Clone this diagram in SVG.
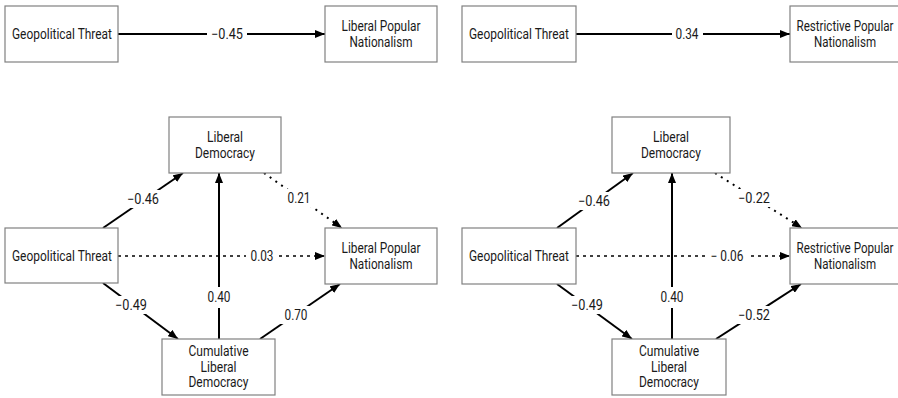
<svg xmlns="http://www.w3.org/2000/svg" width="898" height="398" viewBox="0 0 898 398">
<defs>
<marker id="ah" markerUnits="userSpaceOnUse" markerWidth="10" markerHeight="8" refX="10" refY="4" orient="auto">
<path d="M0,0 L10,4 L0,8 z" fill="#000"/>
</marker>
<style>
.box{fill:#fff;stroke:#808080;stroke-width:1.2}
.t{font-family:Roboto,"Liberation Sans",sans-serif;font-size:14px;fill:#1a1a1a;text-anchor:middle}
.e{fill:none;stroke:#000;stroke-width:2;marker-end:url(#ah)}
.d{fill:none;stroke:#000;stroke-width:1.6;stroke-dasharray:3 4;marker-end:url(#ah)}
.dd{fill:none;stroke:#000;stroke-width:2;stroke-dasharray:2 5;marker-end:url(#ah)}
.bg{fill:#fff}
</style>
</defs>
<rect width="898" height="398" fill="#fff"/>

<g id="connectors">
<line class="e" x1="118" y1="34" x2="325" y2="34"/>
<rect class="bg" x="207" y="27" width="40" height="14"/>
<text class="t" x="227" y="39" textLength="32" lengthAdjust="spacingAndGlyphs">−0.45</text>
<line class="e" x1="576" y1="34" x2="790" y2="34"/>
<rect class="bg" x="672" y="27" width="31" height="14"/>
<text class="t" x="687" y="39" textLength="23" lengthAdjust="spacingAndGlyphs">0.34</text>

<line class="d" x1="118" y1="256" x2="325" y2="256"/>
<rect class="bg" x="246" y="249" width="32" height="14"/>
<text class="t" x="262" y="261" textLength="23" lengthAdjust="spacingAndGlyphs">0.03</text>
<line class="e" x1="219" y1="339" x2="219" y2="173"/>
<rect class="bg" x="205" y="287" width="28" height="21"/>
<text class="t" x="219" y="302" textLength="23" lengthAdjust="spacingAndGlyphs">0.40</text>
<line class="e" x1="103" y1="228" x2="183" y2="173"/>
<rect class="bg" x="124" y="190" width="38" height="18"/>
<text class="t" x="143" y="204" textLength="32" lengthAdjust="spacingAndGlyphs">−0.46</text>
<line class="dd" x1="264" y1="173" x2="342" y2="228"/>
<rect class="bg" x="284" y="189" width="31" height="18"/>
<text class="t" x="299" y="203" textLength="23" lengthAdjust="spacingAndGlyphs">0.21</text>
<line class="e" x1="103" y1="283" x2="178" y2="339"/>
<rect class="bg" x="112" y="296" width="38" height="18"/>
<text class="t" x="131" y="310" textLength="32" lengthAdjust="spacingAndGlyphs">−0.49</text>
<line class="e" x1="260" y1="339" x2="340" y2="284"/>
<rect class="bg" x="280" y="306" width="31" height="18"/>
<text class="t" x="296" y="320" textLength="23" lengthAdjust="spacingAndGlyphs">0.70</text>

<line class="d" x1="576" y1="256" x2="790" y2="256"/>
<rect class="bg" x="708" y="249" width="42" height="14"/>
<text class="t" x="727" y="261" textLength="33" lengthAdjust="spacingAndGlyphs">− 0.06</text>
<line class="e" x1="672" y1="339" x2="672" y2="173"/>
<rect class="bg" x="658" y="287" width="28" height="21"/>
<text class="t" x="672" y="302" textLength="23" lengthAdjust="spacingAndGlyphs">0.40</text>
<line class="e" x1="557" y1="228" x2="633" y2="173"/>
<rect class="bg" x="575" y="192" width="38" height="18"/>
<text class="t" x="594" y="206" textLength="32" lengthAdjust="spacingAndGlyphs">−0.46</text>
<line class="dd" x1="715" y1="173" x2="802" y2="228"/>
<rect class="bg" x="735" y="189" width="38" height="18"/>
<text class="t" x="754" y="203" textLength="32" lengthAdjust="spacingAndGlyphs">−0.22</text>
<line class="e" x1="557" y1="284" x2="632" y2="339"/>
<rect class="bg" x="568" y="296" width="38" height="18"/>
<text class="t" x="587" y="310" textLength="32" lengthAdjust="spacingAndGlyphs">−0.49</text>
<line class="e" x1="716" y1="339" x2="801" y2="284"/>
<rect class="bg" x="735" y="306" width="38" height="18"/>
<text class="t" x="754" y="320" textLength="32" lengthAdjust="spacingAndGlyphs">−0.52</text>
</g>

<g id="gt-top-left">
<rect class="box" x="5" y="6" width="113" height="56"/>
<text class="t" x="62" y="39" textLength="100" lengthAdjust="spacingAndGlyphs">Geopolitical Threat</text>
</g>
<g id="lpn-top">
<rect class="box" x="325" y="6" width="112" height="56"/>
<text class="t" x="381" y="31" textLength="79" lengthAdjust="spacingAndGlyphs">Liberal Popular</text>
<text class="t" x="381" y="46.5" textLength="63" lengthAdjust="spacingAndGlyphs">Nationalism</text>
</g>
<g id="gt-top-right">
<rect class="box" x="462" y="6" width="114" height="56"/>
<text class="t" x="519" y="39" textLength="100" lengthAdjust="spacingAndGlyphs">Geopolitical Threat</text>
</g>
<g id="rpn-top">
<rect class="box" x="790" y="6" width="114" height="56"/>
<text class="t" x="845" y="31" textLength="97" lengthAdjust="spacingAndGlyphs">Restrictive Popular</text>
<text class="t" x="845" y="46.5" textLength="62" lengthAdjust="spacingAndGlyphs">Nationalism</text>
</g>

<g id="ld-left">
<rect class="box" x="169" y="117" width="112" height="56"/>
<text class="t" x="225" y="142" textLength="36" lengthAdjust="spacingAndGlyphs">Liberal</text>
<text class="t" x="225" y="157.5" textLength="60" lengthAdjust="spacingAndGlyphs">Democracy</text>
</g>
<g id="gt-left">
<rect class="box" x="5" y="228" width="113" height="55"/>
<text class="t" x="62" y="261" textLength="100" lengthAdjust="spacingAndGlyphs">Geopolitical Threat</text>
</g>
<g id="lpn-left">
<rect class="box" x="325" y="228" width="112" height="56"/>
<text class="t" x="381" y="253" textLength="79" lengthAdjust="spacingAndGlyphs">Liberal Popular</text>
<text class="t" x="381" y="268.5" textLength="63" lengthAdjust="spacingAndGlyphs">Nationalism</text>
</g>
<g id="cld-left">
<rect class="box" x="162" y="339" width="113" height="56"/>
<text class="t" x="218.5" y="356" textLength="60" lengthAdjust="spacingAndGlyphs">Cumulative</text>
<text class="t" x="218.5" y="371.5" textLength="36" lengthAdjust="spacingAndGlyphs">Liberal</text>
<text class="t" x="218.5" y="387" textLength="60" lengthAdjust="spacingAndGlyphs">Democracy</text>
</g>

<g id="ld-right">
<rect class="box" x="612" y="117" width="118" height="56"/>
<text class="t" x="671" y="142" textLength="36" lengthAdjust="spacingAndGlyphs">Liberal</text>
<text class="t" x="671" y="157.5" textLength="60" lengthAdjust="spacingAndGlyphs">Democracy</text>
</g>
<g id="gt-right">
<rect class="box" x="462" y="228" width="114" height="56"/>
<text class="t" x="519" y="261" textLength="100" lengthAdjust="spacingAndGlyphs">Geopolitical Threat</text>
</g>
<g id="rpn-right">
<rect class="box" x="790" y="228" width="114" height="56"/>
<text class="t" x="845" y="253" textLength="97" lengthAdjust="spacingAndGlyphs">Restrictive Popular</text>
<text class="t" x="845" y="268.5" textLength="62" lengthAdjust="spacingAndGlyphs">Nationalism</text>
</g>
<g id="cld-right">
<rect class="box" x="612" y="339" width="114" height="56"/>
<text class="t" x="669" y="356" textLength="60" lengthAdjust="spacingAndGlyphs">Cumulative</text>
<text class="t" x="669" y="371.5" textLength="36" lengthAdjust="spacingAndGlyphs">Liberal</text>
<text class="t" x="669" y="387" textLength="60" lengthAdjust="spacingAndGlyphs">Democracy</text>
</g>
</svg>
